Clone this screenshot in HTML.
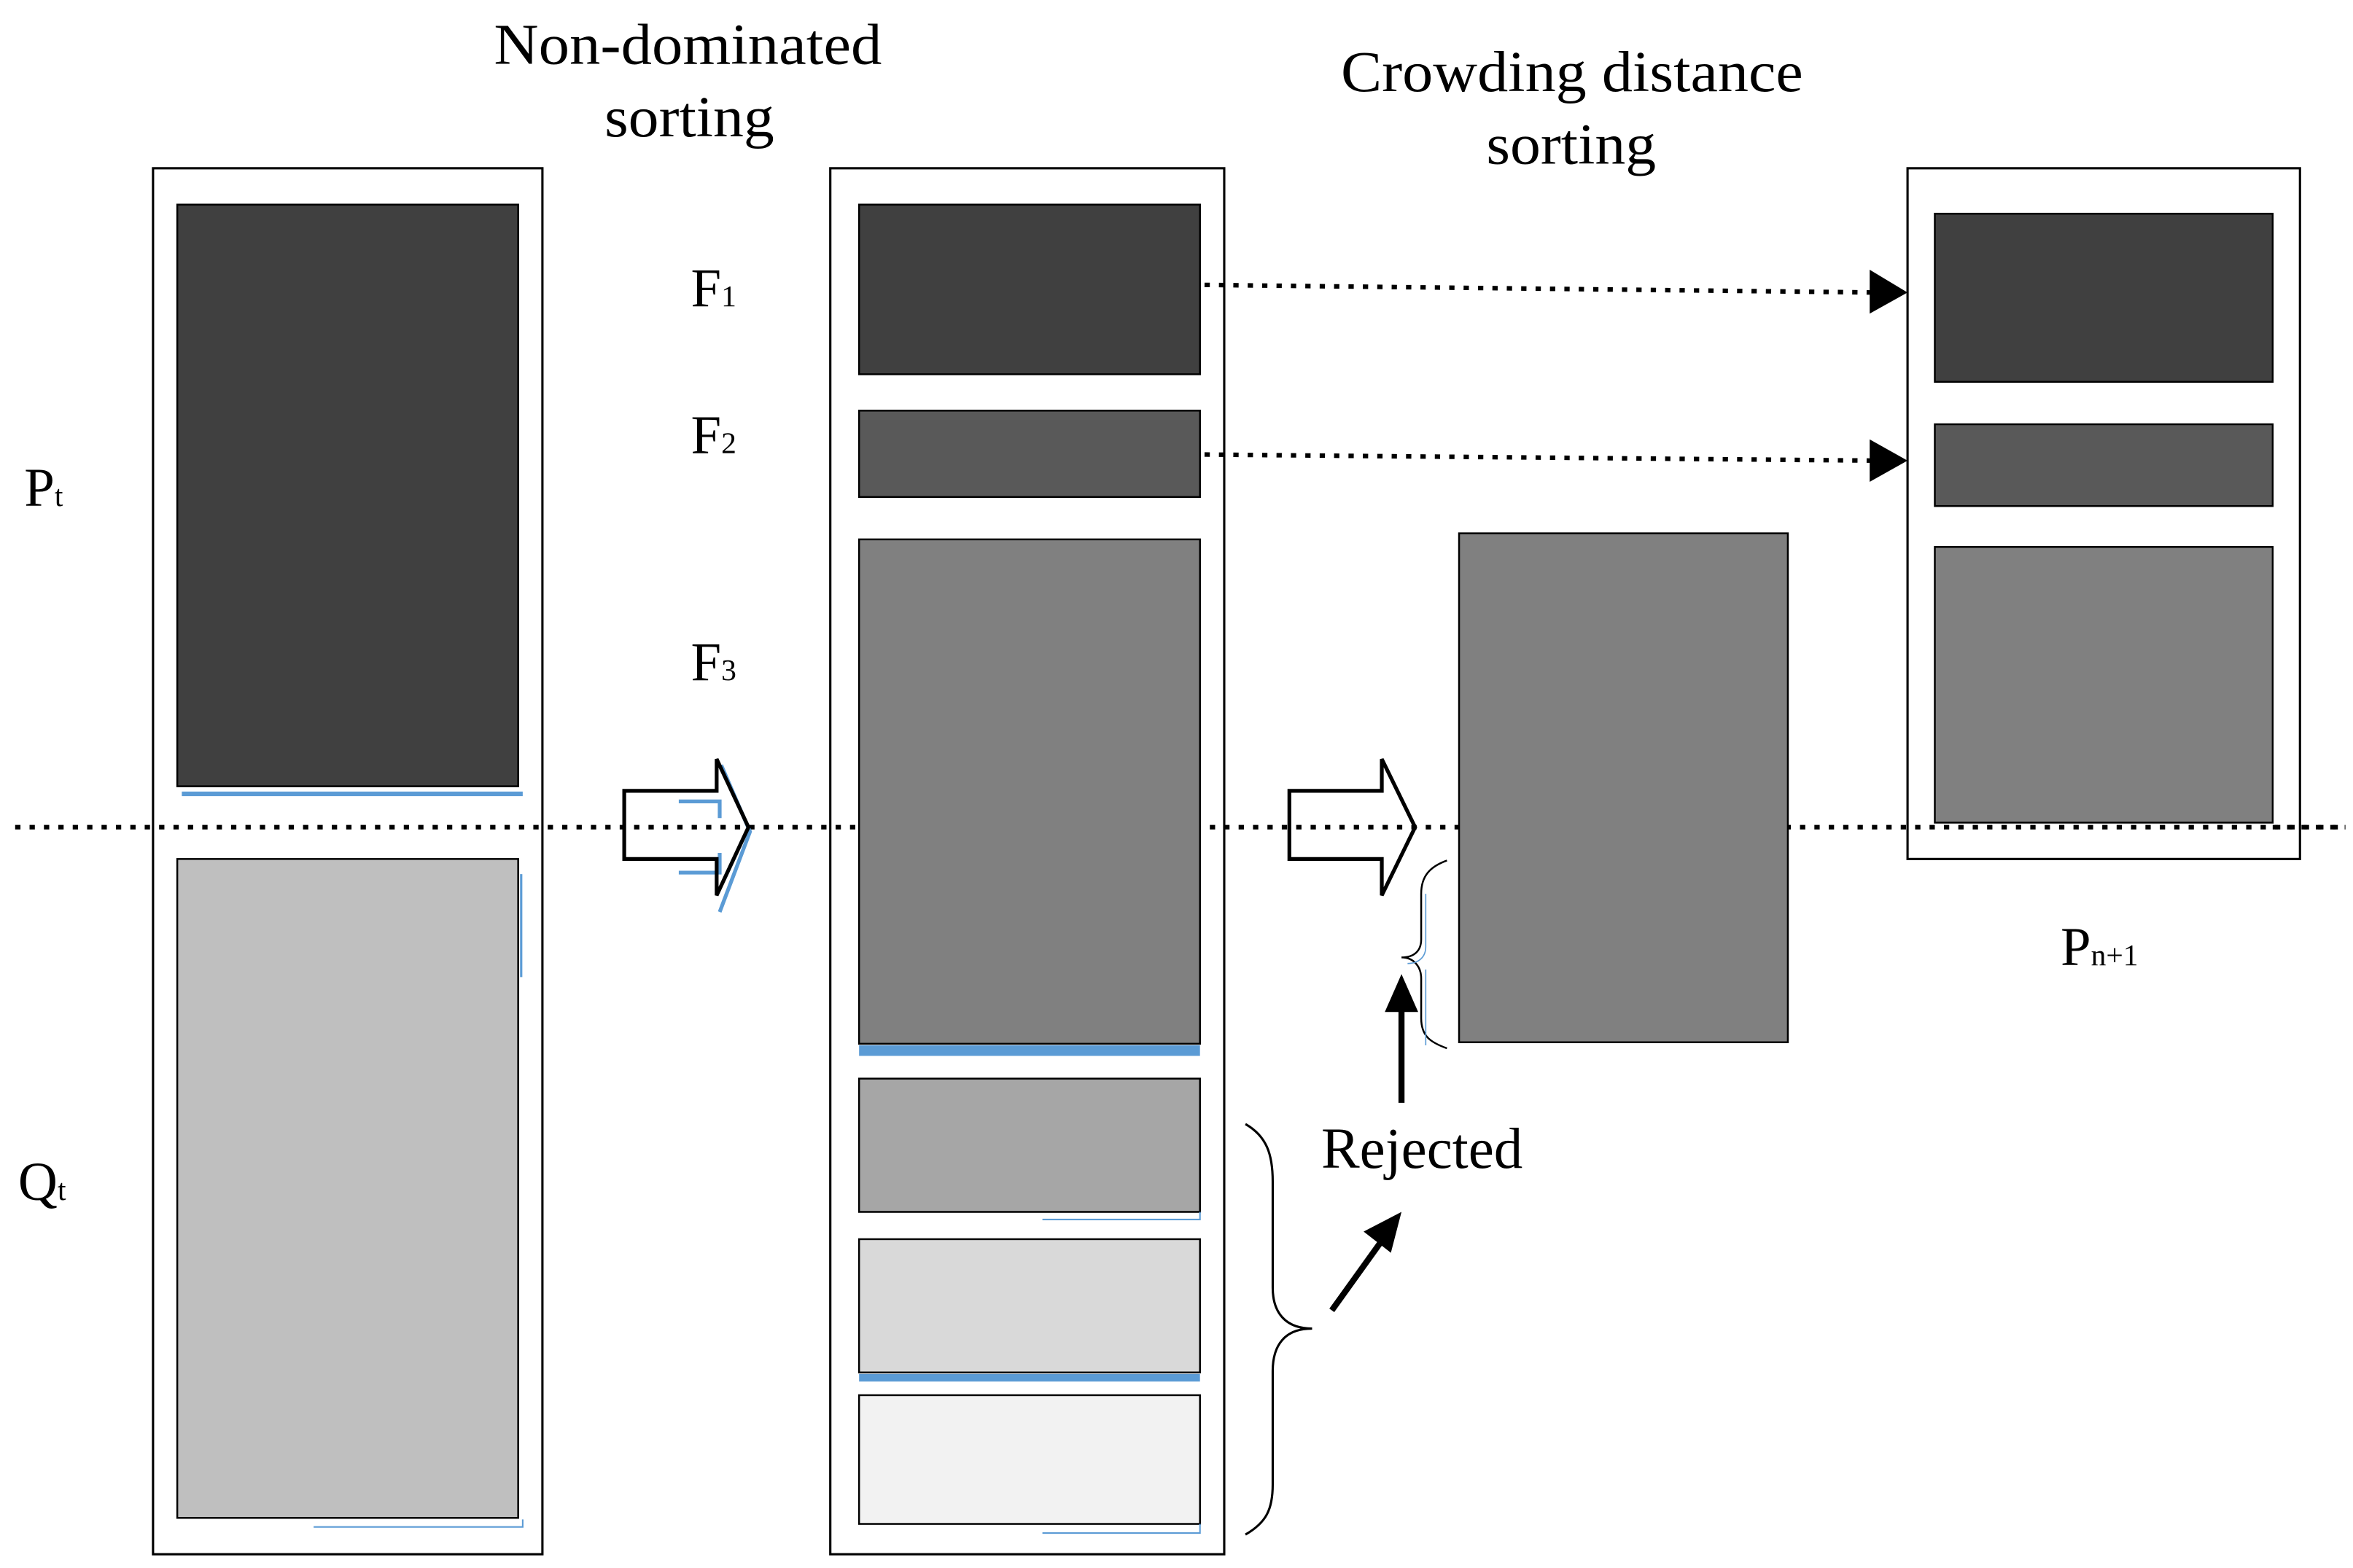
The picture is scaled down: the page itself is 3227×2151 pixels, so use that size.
<!DOCTYPE html>
<html><head><style>html,body{margin:0;padding:0;background:#fff}svg{display:block}</style></head>
<body>
<svg width="3227" height="2151" viewBox="0 0 1553 1035" xmlns="http://www.w3.org/2000/svg" font-family="'Liberation Serif', serif">
<rect width="1553" height="1035" fill="#fff"/>
<rect x="101" y="111" width="257" height="915" fill="#fff" stroke="#000" stroke-width="1.5"/>
<rect x="548" y="111" width="260" height="915" fill="#fff" stroke="#000" stroke-width="1.5"/>
<rect x="1259" y="111" width="259" height="456" fill="#fff" stroke="#000" stroke-width="1.5"/>
<line x1="10" y1="546" x2="1548" y2="546" stroke="#000" stroke-width="3" stroke-dasharray="3.5,6"/>
<rect x="117" y="135" width="225" height="384" fill="#404040" stroke="#000" stroke-width="1.2"/>
<rect x="117" y="567" width="225" height="435" fill="#bfbfbf" stroke="#000" stroke-width="1.2"/>
<line x1="120" y1="524" x2="345" y2="524" stroke="#5b9bd5" stroke-width="3"/>
<line x1="344" y1="577" x2="344" y2="645" stroke="#5b9bd5" stroke-width="1.5"/>
<polyline points="207,1008 345,1008 345,1003" fill="none" stroke="#5b9bd5" stroke-width="1"/>
<rect x="567" y="135" width="225" height="112" fill="#404040" stroke="#000" stroke-width="1.2"/>
<rect x="567" y="271" width="225" height="57" fill="#595959" stroke="#000" stroke-width="1.2"/>
<rect x="567" y="356" width="225" height="333" fill="#808080" stroke="#000" stroke-width="1.2"/>
<rect x="567" y="690" width="225" height="7" fill="#5b9bd5"/>
<rect x="567" y="712" width="225" height="88" fill="#a6a6a6" stroke="#000" stroke-width="1.2"/>
<polyline points="688,805 792,805 792,800" fill="none" stroke="#5b9bd5" stroke-width="1"/>
<rect x="567" y="818" width="225" height="88" fill="#d9d9d9" stroke="#000" stroke-width="1.2"/>
<rect x="567" y="907" width="225" height="5" fill="#5b9bd5"/>
<rect x="567" y="921" width="225" height="85" fill="#f2f2f2" stroke="#000" stroke-width="1.2"/>
<polyline points="688,1012 792,1012 792,1006" fill="none" stroke="#5b9bd5" stroke-width="1"/>
<rect x="963" y="352" width="217" height="336" fill="#808080" stroke="#000" stroke-width="1.2"/>
<rect x="1277" y="141" width="223" height="111" fill="#404040" stroke="#000" stroke-width="1.2"/>
<rect x="1277" y="280" width="223" height="54" fill="#595959" stroke="#000" stroke-width="1.2"/>
<rect x="1277" y="361" width="223" height="182" fill="#808080" stroke="#000" stroke-width="1.2"/>
<line x1="1500" y1="546" x2="1548" y2="546" stroke="#000" stroke-width="3" stroke-dasharray="3.5,6"/>
<path d="M448,529 H475 V540 M448,576 H475 V563 M476,505 L495,549 L475,602" fill="none" stroke="#5b9bd5" stroke-width="2.5"/>
<path d="M412,522 H473 V501 L494,546 L473,591 V567 H412 Z" fill="none" stroke="#000" stroke-width="2.5"/>
<path d="M851,522 H912 V501 L934,546 L912,591 V567 H851 Z" fill="none" stroke="#000" stroke-width="2.5"/>
<line x1="795" y1="188" x2="1236" y2="193" stroke="#000" stroke-width="3" stroke-dasharray="3.5,6"/>
<polygon points="1234,178 1259,193 1234,207" fill="#000"/>
<line x1="795" y1="300" x2="1236" y2="304" stroke="#000" stroke-width="3" stroke-dasharray="3.5,6"/>
<polygon points="1234,290 1259,304 1234,318" fill="#000"/>
<path d="M822,742 C836,750 840,762 840,780 V850 C840,866 848,877 866,877 M866,877 C848,877 840,888 840,905 V980 C840,996 836,1005 822,1013" fill="none" stroke="#000" stroke-width="1.5"/>
<path d="M955,568 C944,572 938,578 938,590 V620 C938,628 933,632 925,632 M925,632 C933,632 938,638 938,646 V672 C938,684 944,688 955,692" fill="none" stroke="#000" stroke-width="1.2"/>
<path d="M941,590 V625 C941,632 936,636 929,636 M941,640 V690" fill="none" stroke="#5b9bd5" stroke-width="0.8"/>
<line x1="925" y1="728" x2="925" y2="664" stroke="#000" stroke-width="4"/>
<polygon points="914,668 925,643 936,668" fill="#000"/>
<line x1="879" y1="865" x2="912" y2="819" stroke="#000" stroke-width="4"/>
<polygon points="900,813 925,800 918,827" fill="#000"/>
<g font-size="38" fill="#000">
<text x="326" y="42" textLength="256" lengthAdjust="spacingAndGlyphs">Non-dominated</text>
<text x="399" y="90" textLength="112" lengthAdjust="spacingAndGlyphs">sorting</text>
<text x="885" y="60" textLength="305" lengthAdjust="spacingAndGlyphs">Crowding distance</text>
<text x="981" y="108" textLength="112" lengthAdjust="spacingAndGlyphs">sorting</text>
<text x="872" y="771" textLength="133" lengthAdjust="spacingAndGlyphs">Rejected</text>
</g>
<g font-size="36" fill="#000">
<text x="456" y="202">F<tspan font-size="20">1</tspan></text>
<text x="456" y="299">F<tspan font-size="20">2</tspan></text>
<text x="456" y="449">F<tspan font-size="20">3</tspan></text>
<text x="16" y="334">P<tspan font-size="20">t</tspan></text>
<text x="12" y="792">Q<tspan font-size="20">t</tspan></text>
<text x="1360" y="637">P<tspan font-size="20">n+1</tspan></text>
</g>
</svg>
</body></html>
